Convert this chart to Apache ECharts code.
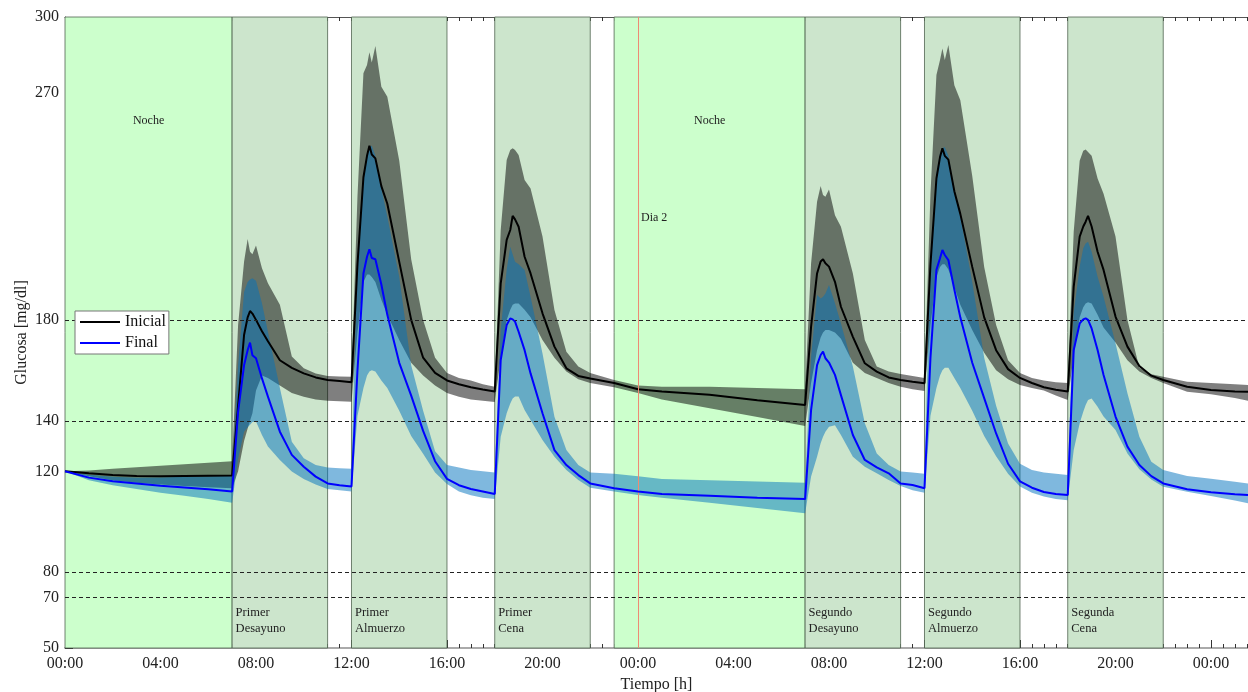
<!DOCTYPE html>
<html><head><meta charset="utf-8">
<script src="https://cdn.jsdelivr.net/npm/echarts@6/dist/echarts.min.js"></script>
<style>html,body{margin:0;padding:0;background:#fff}#c{width:1248px;height:692px}</style>
</head><body><div id="c"></div>
<script>
// time in hours since 00:00 of day 1
const T = [0,1,2,3,4,5,6,7,
7.25,7.5,7.65,7.75,7.85,8,8.25,8.5,9,9.5,10,10.5,11,11.5,12,
12.25,12.5,12.65,12.75,12.85,13,13.25,13.5,14,14.5,15,15.5,16,16.5,17,17.5,18,
18.25,18.5,18.65,18.75,18.85,19,19.25,19.5,20,20.5,21,21.5,22,23,24,25,27,29,31,
31.25,31.5,31.65,31.75,31.85,32,32.25,32.5,33,33.5,34,34.5,35,35.5,36,
36.25,36.5,36.65,36.75,36.85,37,37.25,37.5,38,38.5,39,39.5,40,40.5,41,41.5,42,
42.25,42.5,42.65,42.75,42.85,43,43.25,43.5,44,44.5,45,45.5,46,47,48,49,49.55];

const inicial = [120,119.2,118.5,118.1,118.0,118.1,118.2,118.3,
146,174,181,183.5,182.5,180,175.5,171.5,164,161,158.8,157.2,156.2,155.8,155.3,
202,236.5,245,249,245.5,244,233,226,203,180,165,159,156,154.5,153.3,152.4,151.6,
194.5,211.7,215.6,221.2,219.8,216.9,205,198.4,182.6,169.4,160.8,157.8,156.8,155,152.5,151.6,150.3,148.2,146.3,
177.3,198.4,203.1,204,202.4,201.1,195.1,185.2,173.3,162.8,159.5,157.2,156.2,155.5,154.9,
202,236,244.5,248,245,243.5,231,222,201,181,168,160.5,157,155,153.3,152.3,151.6,
193.2,213,217,218.9,221.2,217,207,199.8,181.3,169.4,161.7,157.9,156.2,153.5,152.2,151.6,151.5];

const inicialHi = [120,120.3,121,121.6,122.2,122.8,123.4,124,
178,203,212,207,206,209.5,200.5,194.5,186,165.5,160.8,158.8,157.8,157.6,157.5,
229,277.7,281,286,282,288.5,272.4,268.4,243,204,180,165,159,157,156,154.5,153.5,
215.6,243.3,247.3,248,247.3,245.3,235.4,232.1,213,183.9,167.4,161.5,159,156.2,154,153.5,153.5,153,152.5,
202.4,226.8,233,229.5,228.8,231.7,221.5,216.9,198.4,172,161.5,159.5,158.6,157.8,157,
230,277,283,287.5,283,288.9,273,267,237,201,178,164,159,157,156,155.3,155,
215,243,247,247.5,246.5,245,236,230,213,180,161,158.5,157.5,155.5,155,154.5,154.2];

const inicialLo = [120,118,116.5,115.5,114.8,114.2,113.7,113.3,
120,132,137,140,143,152,158,157,154,151,149.5,148.5,148,147.8,147.6,
175,195,198,198,197,195,188,182,172,163,158,154,151,149.5,148.5,148,147.5,
165,180,184,186,186.5,186.5,184,181,172,165,159.5,156.5,155,153.3,151,148.5,145,141.5,138,
155,168,173,175,176,176,175,172.5,163,159,157,155,153.5,152.5,151.8,
178,197,201,202,202,200,193,186,176,167,160,156.5,154.2,153,152,150,148.3,
166,181,185,186.5,187,186.5,182,177,171,164,159.5,157,155,151.5,150.5,149,148];

const final = [120,117.5,116.1,115.2,114.3,113.6,112.9,112,
143.6,162,168,171,166,164.8,156.8,149.6,135.7,126.5,121.8,117.9,115.2,114.5,114,
160,198.4,205,208,204.5,204,194,182,163,150,136,124,117,114.5,113,112,111,
164.1,178,180.6,180.2,179.3,175.3,168,158.8,143,128.4,122.5,118.5,115.2,113.3,112,111,110.3,109.5,109,
144.3,162.1,166.1,167.4,164.8,163.1,158.2,150.2,134.4,124.5,121.6,119.2,115.2,114.6,113.3,
165,199.8,204.4,207.7,205.7,203.7,192,181,163,149,135,123,116,113.5,111.8,111,110.6,
168.1,178.6,180.2,180.6,180,176.6,168.1,158.2,141.7,129.8,122.5,118.1,115.2,112.9,111.7,110.9,110.6];

const finalHi = [120,118.6,117.8,117.5,117.6,117.8,118,118.2,
162,191,195,196,196.5,195.5,186.6,175.3,153,131.7,125.2,122.5,121.5,121.2,121,
205,238,246,248.5,249,245,232,221,197,162,144,128,122.5,121.5,120.5,120,119.5,
176,200,209,206,203,202,199.8,189.2,166.7,141.6,128.4,122.5,119.5,119,118,117,116.5,116,115.5,
165.4,189.9,188.5,189.2,190.5,193.8,186.6,178.6,161.5,139,127.1,122.5,119.9,119.5,119,
205,238,246,248,248.5,245,232,221,195,165,146,131,123,120.5,119.5,119,118.5,
182.6,201.1,208.4,210.3,211,207,197.1,189.2,170.7,150.9,133.7,123.8,120.5,118.1,117.1,115.9,115.2];

const finalLo = [120,116.5,114.5,113,111.5,110.3,109,107.5,
125,135.7,137.5,138.5,139.5,139.7,134.4,129.8,124.5,119.9,117,114.8,113,112.5,112,
142,153,158,159.5,160,159.5,156,153,144,134,127,119.5,115,112,110.5,109.5,109,
133.7,143,146.9,148.9,149.6,149.6,144.3,140.3,132.4,125.8,120.5,116.6,113.5,112,110.6,109.5,107.5,105.5,103.4,
117.9,125.8,131.1,133.7,135.7,137.7,138.3,134.4,125.8,121.8,119.2,116.6,114.2,112.5,111.5,
142,153,158,160,161,161,157,153,144,134,126,119,114,111.5,110,109,108.5,
128.4,139,143.6,146.3,148.3,148.9,145.6,141.7,136.4,127.1,120.8,116.8,113.9,111.9,110.2,108.4,107.3];

const yTickValues = [50,70,80,120,140,180,270,300];
const xTickValues = [0,4,8,12,16,20,24,28,32,36,40,44,48];
const xTickLabels = ['00:00','04:00','08:00','12:00','16:00','20:00','00:00','04:00','08:00','12:00','16:00','20:00','00:00'];
const refLevels = [70,80,140,180];
const dayMark = 24;
const periodNames = ['Noche','Primer\nDesayuno','Primer\nAlmuerzo','Primer\nCena','Noche','Segundo\nDesayuno','Segundo\nAlmuerzo','Segunda\nCena'];
const periodFrom = [0,7,12,18,23,31,36,42];
const periodTo   = [7,11,16,22,31,35,40,46];

const X_MAX = 49.55;
const FONT = 'Liberation Serif';

const minorX = []; for (let v = 0; v <= 49.5; v += 0.5) minorX.push(v);
const minorY = []; for (let v = 50; v <= 300; v += 5) minorY.push(v);

function pts(arr){ return T.map((t,i)=>[t, arr[i]]); }

function band(name, lo, hi, color, z){
  return {
    type:'custom', name, z, silent:true, xAxisIndex:0, yAxisIndex:0,
    data:[[T[0], lo[0]]],
    renderItem:(params, api)=>{
      const p = [];
      for (let i=0;i<T.length;i++) p.push(api.coord([T[i], hi[i]]));
      for (let i=T.length-1;i>=0;i--) p.push(api.coord([T[i], lo[i]]));
      return {type:'polygon', shape:{points:p}, style:{fill:color}};
    }
  };
}

const areas = periodNames.map((n,i)=>{
  const night = n === 'Noche';
  return [{
    xAxis: periodFrom[i],
    itemStyle:{color: night ? '#ccffcc' : '#cce5cc', borderColor:'rgba(70,90,70,0.75)', borderWidth:1},
    label: night ? {show:true, formatter:n, position:'insideTop', distance:98, fontFamily:FONT, fontSize:12, color:'#222'}
                 : {show:true, formatter:n, position:'insideBottomLeft', distance:4, offset:[0,-8], fontFamily:FONT, fontSize:12.5, lineHeight:16, color:'#222'}
  },{xAxis: periodTo[i]}];
});

const chart = echarts.init(document.getElementById('c'), null, {renderer:'canvas'});
chart.setOption({
  animation:false,
  backgroundColor:'#fff',
  grid:{left:65, right:0, top:17, bottom:44, containLabel:false, outerBoundsMode:'none'},
  legend:{
    z:20,
    data:['Inicial','Final'], orient:'vertical', left:75, top:311,
    backgroundColor:'#fff', borderColor:'#777', borderWidth:1, borderRadius:0,
    padding:[3,3,3,5], itemGap:5, itemWidth:40, itemHeight:2, icon:'rect',
    textStyle:{fontFamily:FONT, fontSize:16, color:'#111'}
  },
  xAxis:[
    {type:'value', min:0, max:X_MAX, position:'bottom',
     name:'Tiempo [h]', nameLocation:'middle', nameGap:29, nameMoveOverlap:false,
     nameTextStyle:{fontFamily:FONT, fontSize:16, color:'#222'},
     axisLine:{show:true, lineStyle:{color:'#aaaaaa', width:2}},
     axisTick:{show:true, inside:true, length:8, customValues:xTickValues, lineStyle:{color:'#333'}},
     axisLabel:{show:true, customValues:xTickValues, margin:8, fontFamily:FONT, fontSize:16, color:'#222',
       formatter:(v)=>{const k = xTickValues.indexOf(v); return k>=0 ? xTickLabels[k] : '';}},
     splitLine:{show:false}},
    {type:'value', min:0, max:X_MAX, position:'bottom',
     axisLine:{show:false}, axisLabel:{show:false}, splitLine:{show:false},
     axisTick:{show:true, inside:true, length:4, customValues:minorX, lineStyle:{color:'#333'}}},
    {type:'value', min:0, max:X_MAX, position:'top',
     axisLine:{show:true, lineStyle:{color:'#555', width:1}}, axisLabel:{show:false}, splitLine:{show:false},
     axisTick:{show:true, inside:true, length:4, customValues:minorX, lineStyle:{color:'#333'}}}
  ],
  yAxis:[
    {type:'value', min:50, max:300, position:'left',
     name:'Glucosa [mg/dl]', nameLocation:'middle', nameGap:35, nameRotate:90, nameMoveOverlap:false,
     nameTextStyle:{fontFamily:FONT, fontSize:16, color:'#222'},
     axisLine:{show:true, lineStyle:{color:'#555', width:1}},
     axisTick:{show:true, inside:true, length:8, customValues:yTickValues, lineStyle:{color:'#333'}},
     axisLabel:{show:true, customValues:yTickValues, margin:6, fontFamily:FONT, fontSize:16, color:'#222'},
     splitLine:{show:false}},
    {type:'value', min:50, max:300, position:'left',
     axisLine:{show:false}, axisLabel:{show:false}, splitLine:{show:false},
     axisTick:{show:true, inside:true, length:4, customValues:minorY, lineStyle:{color:'#333'}}}
  ],
  series:[
    {type:'line', name:'periodos', z:0, xAxisIndex:0, yAxisIndex:0, data:[[T[0], inicial[0]]],
     showSymbol:false, lineStyle:{opacity:0}, silent:true,
     markArea:{silent:true, data:areas}},
    band('rango Inicial', inicialLo, inicialHi, 'rgba(0,0,0,0.5)', 1),
    band('rango Final', finalLo, finalHi, 'rgba(0,114,189,0.5)', 2),
    {type:'line', name:'refs', z:3, xAxisIndex:0, yAxisIndex:0, data:[[T[0], inicial[0]]],
     showSymbol:false, lineStyle:{opacity:0}, silent:true,
     markLine:{silent:true, symbol:['none','none'], label:{show:false},
       lineStyle:{color:'#222', type:[4,3], width:1},
       data: refLevels.map(v=>({yAxis:v}))
         .concat([{xAxis:dayMark, lineStyle:{color:'#ee8a74', type:'solid', width:1}}])},
     markPoint:{silent:true, symbol:'circle', symbolSize:0,
       data:[{coord:[dayMark, 220.4], label:{show:true, formatter:'Dia 2', position:'right', distance:3, fontFamily:FONT, fontSize:12, color:'#222'}}]}},
    {type:'line', name:'Inicial', z:4, data:pts(inicial), showSymbol:false, symbol:'none',
     lineStyle:{color:'#000', width:2}, itemStyle:{color:'#000'}},
    {type:'line', name:'Final', z:5, data:pts(final), showSymbol:false, symbol:'none',
     lineStyle:{color:'#0000ff', width:2}, itemStyle:{color:'#0000ff'}}
  ]
});
</script></body></html>
